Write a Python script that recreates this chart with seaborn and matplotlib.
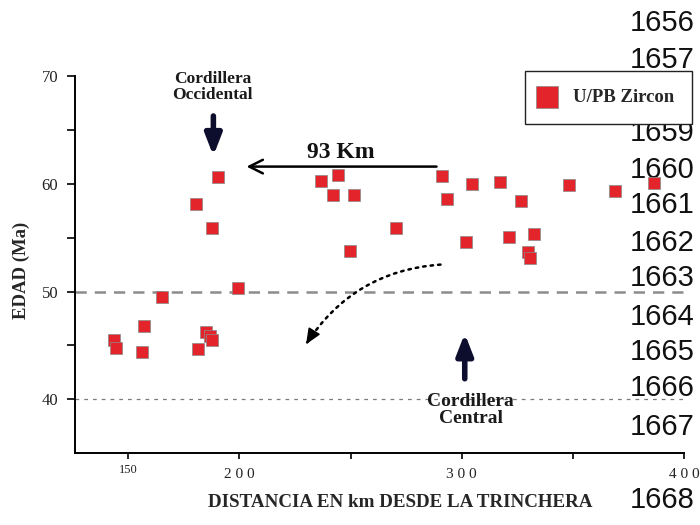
import matplotlib
matplotlib.use("Agg")
import matplotlib.pyplot as plt
from matplotlib.font_manager import FontProperties
from matplotlib.transforms import ScaledTranslation
import pandas as pd
import seaborn as sns

# U/Pb zircon ages against distance from the trench
distance_km = [143.4, 144.7, 156.0, 157.1, 165.2, 181.2, 185.0, 186.8, 187.7, 199.5,
               190.4, 180.5, 187.7,
               236.9, 244.4, 242.0, 251.4, 249.9, 270.6,
               291.0, 293.5, 304.6, 302.1, 317.4, 321.5, 326.7, 332.4, 329.9, 330.9,
               348.3, 369.1, 386.6]
age_ma = [45.5, 44.8, 44.4, 46.8, 49.5, 44.7, 46.2, 45.9, 45.5, 50.3,
          60.6, 58.1, 55.9,
          60.3, 60.8, 59.0, 59.0, 53.8, 55.9,
          60.7, 58.6, 60.0, 54.6, 60.2, 55.1, 58.4, 55.3, 53.7, 53.1,
          59.9, 59.3, 60.1]

x_tick_values = [150, 200, 250, 300, 350, 400]
x_tick_labels = ["150", "2 0 0", "", "3 0 0", "", "4 0 0"]
y_tick_values = [40, 45, 50, 55, 60, 65, 70]
y_tick_labels = ["40", "", "50", "", "60", "", "70"]
side_numbers = ["1656", "1657", "1658", "1659", "1660", "1661", "1662",
                "1663", "1664", "1665", "1666", "1667", "1668"]
side_number_y = [23, 60, 95, 133, 170, 205, 243, 278, 317, 352, 388, 427, 500]

SERIF = "Liberation Serif"
SANS = "Liberation Sans"
RED = "#e3242b"
NAVY = "#0d0d2e"

sns.set_style("white")
plt.rcParams["font.family"] = [SERIF, "DejaVu Serif"]

df = pd.DataFrame({"distancia": distance_km, "edad": age_ma})

fig, ax = plt.subplots(figsize=(7, 5.25), dpi=100)
fig.subplots_adjust(left=0.107, right=0.977, bottom=0.137, top=0.855)

# reference levels
ax.axhline(50, color="#8c8c8c", lw=1.8, dashes=(4.5, 3.2), zorder=1)
ax.axhline(40, color="#7a7a7a", lw=0.9, dashes=(3, 4), zorder=1)

sns.scatterplot(data=df, x="distancia", y="edad", marker="s", s=72,
                color=RED, edgecolor="#8a8a8a", linewidth=0.5,
                label="U/PB Zircon", ax=ax, zorder=3)

ax.set_xlim(126, 400)
ax.set_ylim(35, 70)
ax.set_xticks(x_tick_values)
ax.set_xticklabels(x_tick_labels)
ax.set_yticks(y_tick_values)
ax.set_yticklabels(y_tick_labels)

for side in ("top", "right"):
    ax.spines[side].set_visible(False)
for side in ("left", "bottom"):
    ax.spines[side].set_color("black")
    ax.spines[side].set_linewidth(1.4)

ax.tick_params(axis="y", direction="out", length=6, width=1.2, pad=6,
               labelsize=12, labelcolor="#222222", color="black", left=True)
ax.tick_params(axis="x", direction="out", length=4, width=1.2, pad=7,
               labelsize=11, labelcolor="#222222", color="black", bottom=True)

for lab in ax.get_xticklabels():
    lab.set_fontfamily(SERIF)
    if lab.get_text() == "150":
        lab.set_fontsize(9)
        lab.set_transform(lab.get_transform()
                          + ScaledTranslation(0, 3 / 72, fig.dpi_scale_trans))

bold = dict(family=SERIF, weight="bold")
ax.set_xlabel("DISTANCIA EN km DESDE LA TRINCHERA", fontsize=13.7, **bold)
ax.xaxis.set_label_coords(0.534, -0.108)
ax.set_ylabel("EDAD (Ma)", fontsize=13.5, **bold)
ax.yaxis.set_label_coords(-0.074, 0.485)

# range annotations
ax.text(187.8, 69.0, "Cordillera\nOccidental", ha="center", va="center",
        fontsize=12.5, linespacing=1.0, color="#1a1a1a", **bold)
ax.annotate("", xy=(188.3, 62.6), xytext=(188.3, 66.3),
            arrowprops=dict(arrowstyle="-|>,head_width=0.35,head_length=0.9",
                            lw=4, color=NAVY, mutation_scale=14,
                            shrinkA=0, shrinkB=0))

ax.text(245.5, 62.9, "93 Km", ha="center", va="center", fontsize=17,
        color="#111111", **bold)
ax.annotate("", xy=(203.2, 61.6), xytext=(288.7, 61.6),
            arrowprops=dict(arrowstyle="->,head_width=0.35,head_length=0.7",
                            lw=1.8, color="black", mutation_scale=14,
                            shrinkA=0, shrinkB=0))

# dotted curved path with a solid head at its end
ax.annotate("", xy=(230.0, 45.1), xytext=(290.5, 52.5),
            arrowprops=dict(arrowstyle="-", lw=1.8, color="black",
                            linestyle=(0, (1, 2)), capstyle="round",
                            connectionstyle="arc3,rad=0.25",
                            shrinkA=0, shrinkB=0))
ax.annotate("", xy=(230.0, 45.1), xytext=(232.1, 45.8),
            arrowprops=dict(arrowstyle="-|>,head_width=0.3,head_length=0.7",
                            lw=1.0, color="black", mutation_scale=14,
                            shrinkA=0, shrinkB=0))

ax.annotate("", xy=(301.4, 46.1), xytext=(301.4, 41.9),
            arrowprops=dict(arrowstyle="-|>,head_width=0.35,head_length=0.9",
                            lw=4, color=NAVY, mutation_scale=14,
                            shrinkA=0, shrinkB=0))
ax.text(304.1, 39.0, "Cordillera\nCentral", ha="center", va="center",
        fontsize=14, linespacing=0.95, color="#1a1a1a", **bold)

# column of numbers along the right edge
for txt, py in zip(side_numbers, side_number_y):
    ax.text(695 / 700, 1 - py / 525, txt, transform=fig.transFigure,
            ha="right", va="center", fontsize=21, family=SANS,
            color="#111111", zorder=2)

leg = ax.legend(loc="upper right", bbox_to_anchor=(692 / 700, 1 - 71 / 525),
                bbox_transform=fig.transFigure, borderaxespad=0,
                frameon=True, fancybox=False, framealpha=1,
                edgecolor="#222222", markerscale=1.8,
                prop=FontProperties(family=SERIF, weight="bold", size=13.5),
                borderpad=0.95, handlelength=0.45, handletextpad=1.15)
leg.get_frame().set_linewidth(1.0)
leg.set_zorder(10)

fig.savefig("out.png", dpi=100)
